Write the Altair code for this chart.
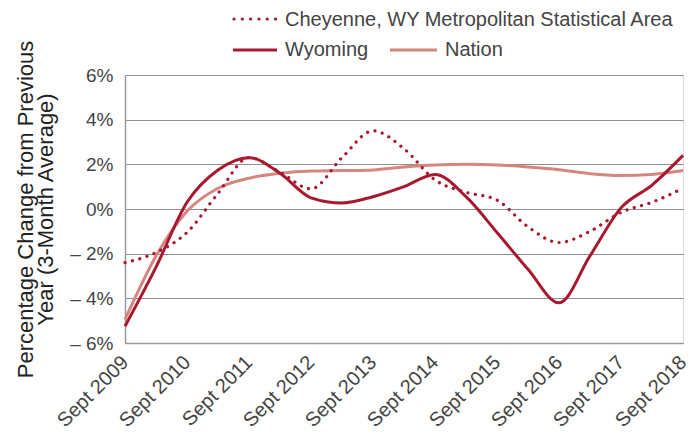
import altair as alt
import pandas as pd

periods = ["2009-09", "2010-03", "2010-09", "2011-03", "2011-09", "2012-03", "2012-09",
           "2013-03", "2013-09", "2014-03", "2014-09", "2015-03", "2015-09", "2016-03",
           "2016-09", "2017-03", "2017-09", "2018-03", "2018-09"]
cheyenne = [-2.4, -1.95, -1.05, 0.7, 2.3, 1.65, 0.9, 2.3, 3.5, 2.7, 1.3, 0.75, 0.4, -0.8,
            -1.5, -1.0, -0.15, 0.3, 0.93]
wyoming = [-5.25, -2.6, 0.3, 1.75, 2.3, 1.6, 0.5, 0.27, 0.55, 1.0, 1.55, 0.55, -1.05, -2.7,
           -4.2, -2.1, 0.05, 1.07, 2.4]
nation = [-4.95, -2.1, -0.1, 0.93, 1.38, 1.6, 1.7, 1.72, 1.75, 1.88, 1.97, 2.0, 1.97, 1.88,
          1.76, 1.58, 1.5, 1.55, 1.72]
tick_years = list(range(2009, 2019))
y_ticks = [-6, -4, -2, 0, 2, 4, 6]

def frac(p):
    y, m = p.split("-")
    return int(y) + (int(m) - 1) / 12.0

rows = []
for name, vals in [("Cheyenne", cheyenne), ("Wyoming", wyoming), ("Nation", nation)]:
    for p, v in zip(periods, vals):
        rows.append({"series": name, "t": frac(p), "v": v})
df = pd.DataFrame(rows)

FONT = "Liberation Sans"
TXT = "#444444"
RED = "#A8192F"
PINK = "#D4867F"
tick_vals = [y + 8 / 12.0 for y in tick_years]

xenc = alt.X("t:Q", scale=alt.Scale(domain=[tick_vals[0], tick_vals[-1]], nice=False, zero=False),
             axis=alt.Axis(values=tick_vals, labelExpr="'Sept ' + floor(datum.value)",
                           labelAngle=-45, labelAlign="right", labelBaseline="middle",
                           labelFontSize=20, labelColor=TXT, labelFont=FONT,
                           labelOverlap=False, labelBound=False, labelFlush=False,
                           ticks=False, grid=False, domainColor="#9a9a9a",
                           domainWidth=1.5, labelPadding=16, title=None))
yenc = alt.Y("v:Q", scale=alt.Scale(domain=[-6, 6], nice=False),
             axis=alt.Axis(values=y_ticks,
                           labelExpr="datum.value < 0 ? '\u2013 ' + abs(datum.value) + '%' : datum.value + '%'",
                           labelFontSize=19, labelColor=TXT, labelFont=FONT,
                           ticks=False, grid=True, gridColor="#8f8f8f", gridWidth=1,
                           domainColor="#9a9a9a", domainWidth=1.5, labelPadding=12,
                           title=["Percentage Change from Previous", "Year (3-Month Average)"],
                           titleFontSize=22, titleFont=FONT, titleFontWeight="normal",
                           titleColor="#222222", titlePadding=12, titleLineHeight=20))

base = alt.Chart(df)
nat = base.transform_filter("datum.series == 'Nation'").mark_line(
    interpolate="monotone", color=PINK, strokeWidth=3).encode(x=xenc, y=yenc)
wy = base.transform_filter("datum.series == 'Wyoming'").mark_line(
    interpolate="monotone", color=RED, strokeWidth=3).encode(x="t:Q", y="v:Q")
ch = base.transform_filter("datum.series == 'Cheyenne'").mark_line(
    interpolate="monotone", color=RED, strokeWidth=3.2, strokeDash=[0.1, 7.5],
    strokeCap="round").encode(x="t:Q", y="v:Q")

leg = alt.Chart(pd.DataFrame({"a": [0]}))
l1 = leg.mark_rule(color=RED, strokeWidth=3.2, strokeDash=[0.1, 8.2], strokeCap="round").encode(
    x=alt.value(109), x2=alt.value(152), y=alt.value(-56))
l2 = leg.mark_rule(color=RED, strokeWidth=3.2).encode(x=alt.value(108), x2=alt.value(152), y=alt.value(-25))
l3 = leg.mark_rule(color=PINK, strokeWidth=3.2).encode(x=alt.value(265), x2=alt.value(312), y=alt.value(-25))
tprops = dict(align="left", baseline="middle", fontSize=20, font=FONT, color=TXT)
t1 = leg.mark_text(**tprops).encode(x=alt.value(160), y=alt.value(-55),
                                    text=alt.value("Cheyenne, WY Metropolitan Statistical Area"))
t2 = leg.mark_text(**tprops).encode(x=alt.value(160), y=alt.value(-25), text=alt.value("Wyoming"))
t3 = leg.mark_text(**tprops).encode(x=alt.value(320), y=alt.value(-25), text=alt.value("Nation"))

chart = alt.layer(nat, wy, ch, l1, l2, l3, t1, t2, t3).properties(
    width=558, height=268,
    autosize=alt.AutoSizeParams(type="none"),
    padding={"left": 117, "top": 67, "right": 8, "bottom": 87},
).configure_view(stroke=None).configure(background="white")

chart.save("out.html", embed_options={"renderer": "svg", "actions": False})
